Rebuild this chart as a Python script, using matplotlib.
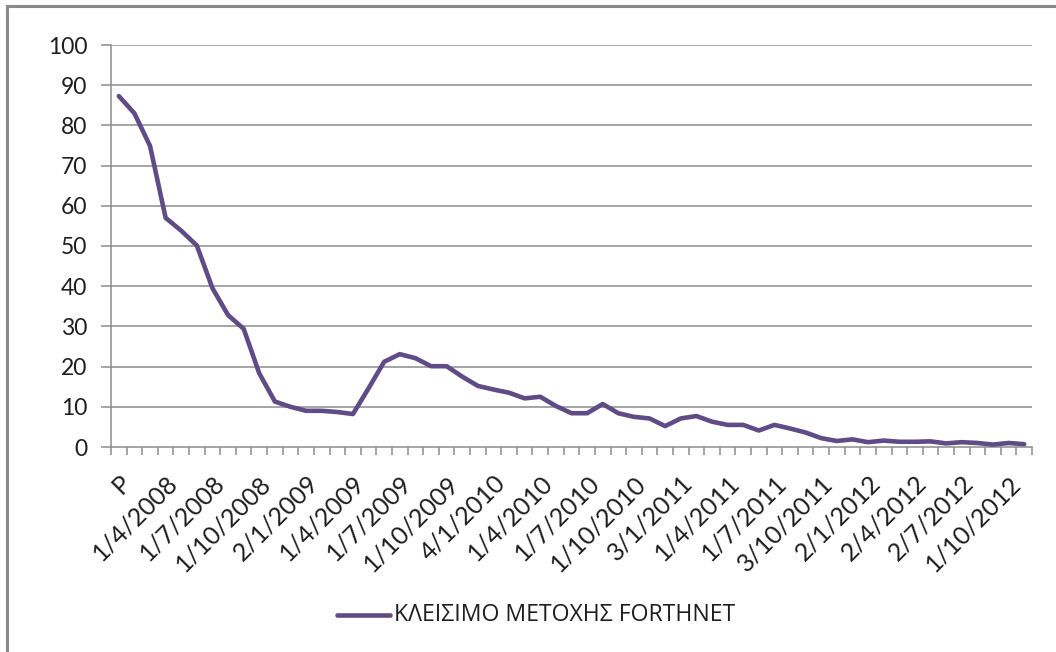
import matplotlib
matplotlib.use("Agg")
import matplotlib.pyplot as plt
from matplotlib.lines import Line2D
import numpy as np

plt.rcParams['font.family'] = ['Lato', 'Noto Sans', 'DejaVu Sans']

values = [87.3, 83.0, 74.9, 57.0, 53.8, 50.1, 39.5, 32.8, 29.4, 18.3,
          11.3, 10.0, 9.0, 9.0, 8.7, 8.2, 14.6, 21.2, 23.1, 22.1,
          20.1, 20.1, 17.5, 15.2, 14.3, 13.5, 12.1, 12.5, 10.2, 8.4,
          8.4, 10.7, 8.4, 7.5, 7.1, 5.2, 7.1, 7.7, 6.3, 5.5,
          5.5, 4.1, 5.5, 4.6, 3.6, 2.2, 1.5, 1.9, 1.2, 1.6,
          1.3, 1.3, 1.4, 0.9, 1.2, 1.0, 0.6, 1.0, 0.7]
tick_labels = ["Ρ", "1/4/2008", "1/7/2008", "1/10/2008", "2/1/2009", "1/4/2009",
               "1/7/2009", "1/10/2009", "4/1/2010", "1/4/2010", "1/7/2010",
               "1/10/2010", "3/1/2011", "1/4/2011", "1/7/2011", "3/10/2011",
               "2/1/2012", "2/4/2012", "2/7/2012", "1/10/2012"]
label_step = 3
y_ticks = [0, 10, 20, 30, 40, 50, 60, 70, 80, 90, 100]
series_name = "ΚΛΕΙΣΙΜΟ ΜΕΤΟΧΗΣ FORTHNET"

W, H = 1056, 652
fig = plt.figure(figsize=(W / 100, H / 100), dpi=100)
ax = fig.add_axes([111 / W, 1 - 447 / H, (1032 - 111) / W, (447 - 45) / H])

n = len(values)
x = np.arange(n) + 0.5
line_color = '#5F4B85'
grid_color = '#8C8C8C'
text_color = '#1E1E1E'
ax.plot(x, values, color=line_color, lw=3.3, solid_joinstyle='round', solid_capstyle='round', zorder=3)

ax.set_xlim(0, n)
ax.set_ylim(0, 100)
ax.set_yticks(y_ticks)
ax.set_yticklabels([str(v) for v in y_ticks], fontsize=16.5, color=text_color)
for yv in y_ticks[1:]:
    ax.axhline(yv, color=grid_color, lw=1.1, zorder=1)

# category boundary ticks
ax.set_xticks(np.arange(n + 1))
ax.set_xticklabels([])
ax.tick_params(axis='x', direction='out', length=6, width=1.1, color=grid_color)
ax.tick_params(axis='y', direction='out', length=7, width=1.1, color=grid_color, pad=10)

for k, lab in enumerate(tick_labels):
    ax.text(k * label_step + 0.5, -6.0, lab, rotation=45, ha='right', va='top',
            rotation_mode='anchor', fontsize=18, color=text_color,
            transform=ax.transData, clip_on=False)

for s in ['top', 'right']:
    ax.spines[s].set_visible(False)
for s in ['left', 'bottom']:
    ax.spines[s].set_color(grid_color)
    ax.spines[s].set_linewidth(1.1)

# legend
fig.add_artist(Line2D([337 / W, 390 / W], [1 - 615 / H, 1 - 615 / H], color=line_color, lw=3.3,
                      solid_capstyle='round'))
fig.text(394 / W, 1 - 615 / H, series_name, fontsize=16.6, va='center', ha='left', color=text_color,
         family=['Open Sans', 'Noto Sans', 'DejaVu Sans'])

# chart border (top and left)
fig.add_artist(Line2D([7 / W, 7 / W], [0, 1 - 6 / H], color='#8A8A8A', lw=2.2))
fig.add_artist(Line2D([7 / W, 1], [1 - 6 / H, 1 - 6 / H], color='#8A8A8A', lw=2.2))

fig.savefig('out.png', dpi=100, facecolor='white')
